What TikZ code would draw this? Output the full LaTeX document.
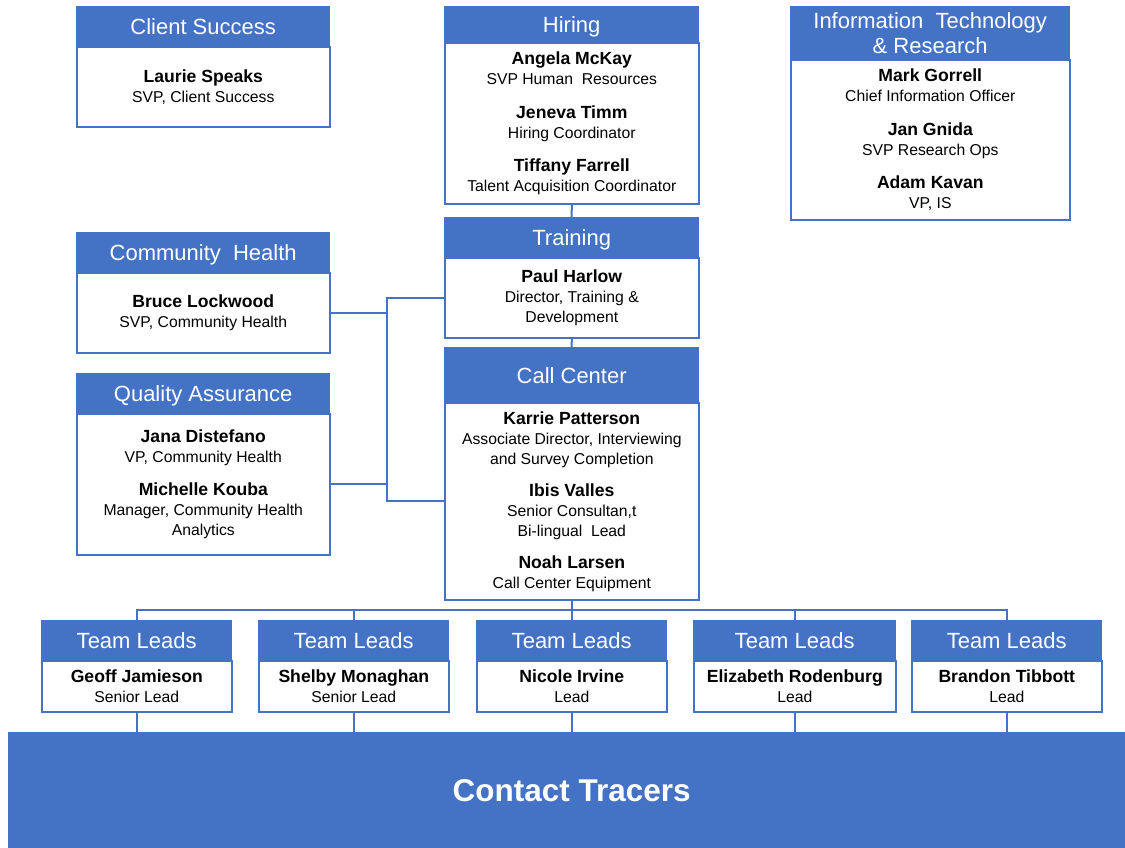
\documentclass[tikz,border=0pt]{standalone}
\usepackage{fontspec}
\setmainfont{Liberation Sans}
\usepackage{tikz}
\usetikzlibrary{positioning, calc}

\definecolor{chblue}{HTML}{4472C4}
\newcommand{\headfont}{\fontsize{16.5}{19}\selectfont}
\newcommand{\rolefont}{\fontsize{11.8}{15}\selectfont}
\newcommand{\namefont}{\fontsize{13.2}{15}\selectfont\bfseries}
\newcommand{\who}[2]{{\namefont #1}\\#2}

\tikzset{
  hd/.style={fill=chblue, draw=chblue, line width=1pt, text=white, font=\headfont,
    align=center, anchor=north west, inner sep=0pt, text depth=0pt,
    minimum width=190.5pt, minimum height=30pt},
  bd/.style={fill=white, draw=chblue, line width=1.2pt, font=\rolefont,
    align=center, anchor=north west, inner sep=0pt, minimum width=190.5pt},
  link/.style={draw=chblue, line width=1.5pt},
}

\begin{document}
\begin{tikzpicture}[x=0.75pt, y=-0.75pt]
    \useasboundingbox (0,0) rectangle (1125,848);

    % Top row
    \node[hd, minimum width=189.75pt] (client-h) at (76,6) {Client Success};
    \node[bd, minimum width=189.75pt, minimum height=60pt] (client) at (76,46)
        {\who{Laurie Speaks}{SVP, Client Success}};

    \node[hd, minimum height=27pt] (hire-h) at (444,6) {Hiring};
    \node[bd, minimum height=120.75pt] (hire) at (444,42)
        {\who{Angela McKay}{SVP Human\ \ Resources}\\[10pt]
         \who{Jeneva Timm}{Hiring Coordinator}\\[10pt]
         \who{Tiffany Farrell}{Talent Acquisition Coordinator}};

    \node[hd, minimum width=209.25pt, minimum height=39.75pt] (itr-h) at (790,6)
        {Information\ \ Technology\\\& Research};
    \node[bd, minimum width=209.25pt, minimum height=120pt] (itr) at (790,59)
        {\who{Mark Gorrell}{Chief Information Officer}\\[10pt]
         \who{Jan Gnida}{SVP Research Ops}\\[10pt]
         \who{Adam Kavan}{VP, IS}};

    % Middle column
    \node[hd] (train-h) at (444,217) {Training};
    \node[bd, minimum height=60pt] (train) at (444,257)
        {\who{Paul Harlow}{Director, Training \&\\Development}};

    \node[hd, minimum height=41.25pt] (call-h) at (444,347) {Call Center};
    \node[bd, minimum height=147.75pt] (call) at (444,402)
        {\who{Karrie Patterson}{Associate Director, Interviewing\\and Survey Completion}\\[9pt]
         \who{Ibis Valles}{Senior Consultan,t\\Bi-lingual\ \ Lead}\\[9pt]
         \who{Noah Larsen}{Call Center Equipment}};

    % Left column
    \node[hd, minimum width=189.75pt] (comm-h) at (76,232) {Community\ \ Health};
    \node[bd, minimum width=189.75pt, minimum height=60pt] (comm) at (76,272)
        {\who{Bruce Lockwood}{SVP, Community Health}};

    \node[hd, minimum width=189.75pt] (qa-h) at (76,373) {Quality Assurance};
    \node[bd, minimum width=189.75pt, minimum height=105.75pt] (qa) at (76,413)
        {\who{Jana Distefano}{VP, Community Health}\\[10pt]
         \who{Michelle Kouba}{Manager,\ Community Health\\Analytics}};

    % Team leads
    \node[hd, minimum width=142.5pt] (lead1-h) at (41,620) {Team Leads};
    \node[bd, minimum width=142.5pt, minimum height=38.25pt] (lead1) at (41,660)
        {\who{Geoff Jamieson}{Senior Lead}};
    \node[hd, minimum width=142.5pt] (lead2-h) at (258,620) {Team Leads};
    \node[bd, minimum width=142.5pt, minimum height=38.25pt] (lead2) at (258,660)
        {\who{Shelby Monaghan}{Senior Lead}};
    \node[hd, minimum width=142.5pt] (lead3-h) at (476,620) {Team Leads};
    \node[bd, minimum width=142.5pt, minimum height=38.25pt] (lead3) at (476,660)
        {\who{Nicole Irvine}{Lead}};
    \node[hd, minimum width=151.5pt] (lead4-h) at (693,620) {Team Leads};
    \node[bd, minimum width=151.5pt, minimum height=38.25pt] (lead4) at (693,660)
        {\who{Elizabeth Rodenburg}{Lead}};
    \node[hd, minimum width=142.5pt] (lead5-h) at (911,620) {Team Leads};
    \node[bd, minimum width=142.5pt, minimum height=38.25pt] (lead5) at (911,660)
        {\who{Brandon Tibbott}{Lead}};

    % Bottom band (runs past the right edge)
    \node[hd, minimum width=844.5pt, minimum height=87pt,
          font=\fontsize{23.6}{28}\selectfont\bfseries] (tracers) at (8,732) {Contact Tracers};

    % Connectors
    \coordinate (bus) at (387,0);
    \coordinate (tlbus) at (0,610);
    \draw[link] (hire.south) -- (train-h.north);
    \draw[link] (train.south) -- (call-h.north);
    \draw[link] (train.west) -- (train.west -| bus) -- (call.west -| bus) -- (call.west);
    \draw[link] (comm.east) -- (comm.east -| bus);
    \draw[link] (qa.east) -- (qa.east -| bus);
    \draw[link] (call.south) -- (call.south |- tlbus);
    \draw[link] (lead1-h.north) -- (lead1-h.north |- tlbus) -- (lead5-h.north |- tlbus) -- (lead5-h.north);
    \foreach \i in {2,3,4}
        \draw[link] (lead\i-h.north) -- (lead\i-h.north |- tlbus);
    \foreach \i in {1,...,5}
        \draw[link] (lead\i.south) -- (lead\i.south |- tracers.north);
\end{tikzpicture}
\end{document}
